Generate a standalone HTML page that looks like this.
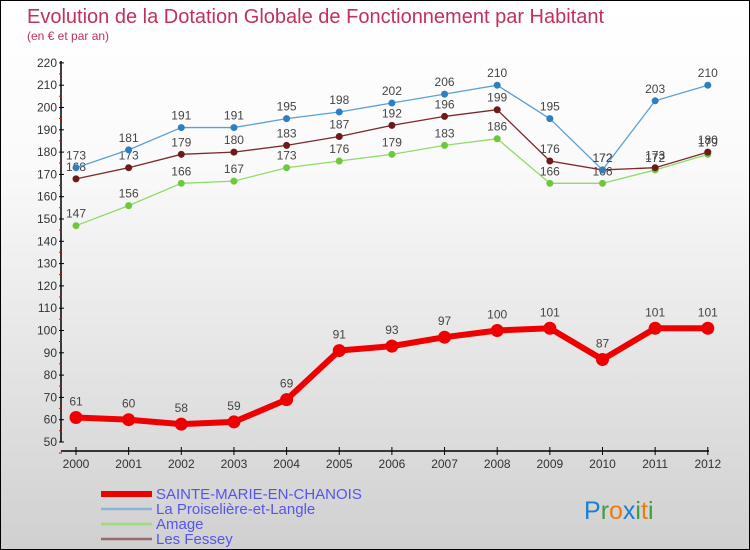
<!DOCTYPE html>
<html><head><meta charset="utf-8"><style>
body{margin:0}
#c{width:750px;height:550px;position:relative;box-sizing:border-box;border:1px solid #000;background:linear-gradient(#fff,#fafafa 30%,#d0d0d0);font-family:"Liberation Sans","DejaVu Sans",sans-serif;overflow:hidden}
</style></head><body>
<div id="c">
<svg width="750" height="550" id="s">
<text x="26" y="22" font-size="20" fill="#c0315c">Evolution de la Dotation Globale de Fonctionnement par Habitant</text>
<text x="26" y="39" font-size="12" fill="#c0315c">(en € et par an)</text>
</svg>
</div>
<script>
const years=["2000","2001","2002","2003","2004","2005","2006","2007","2008","2009","2010","2011","2012"];
const yTicks=[50,60,70,80,90,100,110,120,130,140,150,160,170,180,190,200,210,220];
const sainte=[61,60,58,59,69,91,93,97,100,101,87,101,101];
const proiseliere=[173,181,191,191,195,198,202,206,210,195,172,203,210];
const amage=[147,156,166,167,173,176,179,183,186,166,166,172,179];
const fessey=[168,173,179,180,183,187,192,196,199,176,172,173,180];
const s=document.getElementById('s'),NS='http://www.w3.org/2000/svg';
const X=i=>75+i*52.65, Y=v=>441-(v-50)*2.23;
function el(t,a,p){const e=document.createElementNS(NS,t);for(const k in a)e.setAttribute(k,a[k]);(p||s).appendChild(e);return e;}
let ax=el('line',{x1:60,y1:450,x2:708,y2:450,stroke:'#000','stroke-width':1.5});

let ay=el('line',{x1:60,y1:60,x2:60,y2:441,stroke:'#000','stroke-width':1.5});

yTicks.forEach(v=>{const y=Y(v);el('line',{x1:58,y1:y,x2:63,y2:y,stroke:'#000'});
el('line',{x1:58,y1:y+11,x2:61,y2:y+11,stroke:'#e00'});
const t=el('text',{x:56,y:y+4,'font-size':12,fill:'#333','text-anchor':'end'});t.textContent=v;
});
years.forEach((yr,i)=>{const x=X(i);el('line',{x1:x,y1:446,x2:x,y2:454,stroke:'#000'});
const t=el('text',{x:x,y:467,'font-size':12,fill:'#333','text-anchor':'middle'});t.textContent=yr;
});
function series(d,col,dot,w,r,name,lab){const g=el('g',{});
el('polyline',{points:d.map((v,i)=>X(i)+','+Y(v)).join(' '),fill:'none',stroke:col,'stroke-width':w},g);
d.forEach((v,i)=>{const c=el('circle',{cx:X(i),cy:Y(v),r:r,fill:dot},g);
const t=el('text',{x:X(i),y:Y(v)-lab,'font-size':12,fill:'#444','text-anchor':'middle'},g);t.textContent=v;});}
series(amage,'#8fdc6a','#6cc93c',1.3,3.5,'series-amage',8);
series(fessey,'#7a2a2a','#6e1a1a',1.3,3.5,'series-les-fessey',8);
series(proiseliere,'#5aa0d8','#2f7fc0',1.3,3.5,'series-proiseliere',8);
series(sainte,'#ee0000','#ee0000',6,6.5,'series-sainte-marie',12);
const leg=[['SAINTE-MARIE-EN-CHANOIS','#ee0000',6],['La Proiselière-et-Langle','#8ab4d8',2.5],['Amage','#9ddc7a',2.5],['Les Fessey','#9a6a6a',2.5]];
leg.forEach((l,i)=>{const y=493+i*15;const g=el('g',{});
el('line',{x1:100,y1:y,x2:151,y2:y,stroke:l[1],'stroke-width':l[2]},g);
const t=el('text',{x:155,y:y+5,'font-size':15,fill:'#5555ee'},g);t.textContent=l[0];});
const lg=el('text',{x:583,y:518,'font-size':25});
[['P','#1a7fd0'],['r','#3aa040'],['o','#f07a10'],['x','#1a7fd0'],['i','#3aa040'],['t','#f07a10'],['i','#3aa040']].forEach(c=>{const sp=el('tspan',{fill:c[1]},lg);sp.textContent=c[0];});
</script>
</body></html>
